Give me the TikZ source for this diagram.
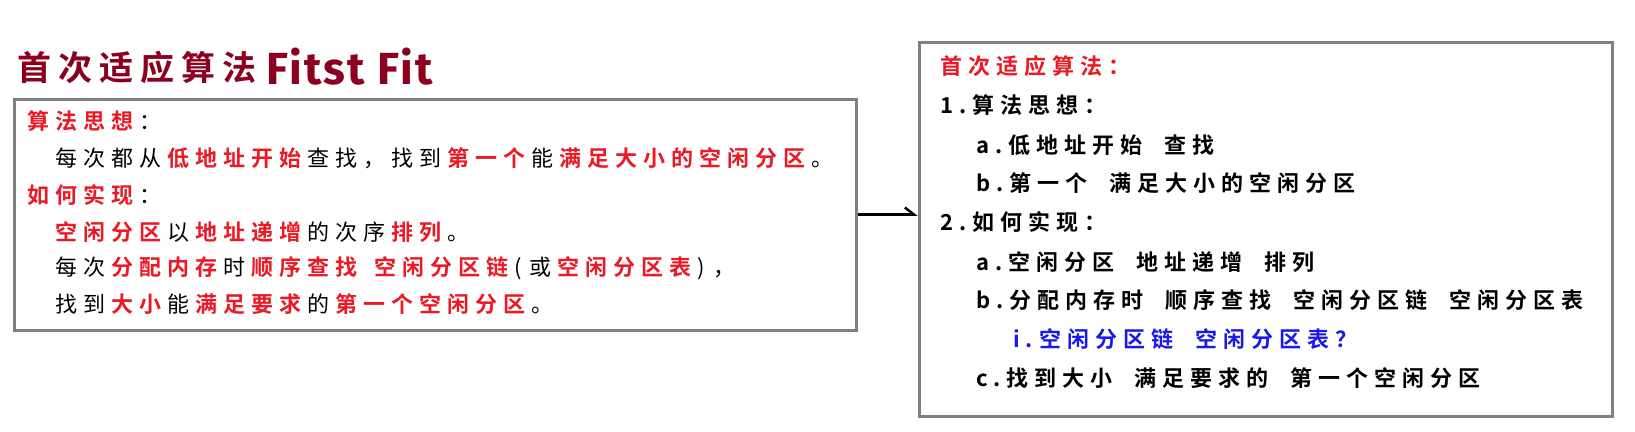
\documentclass[tikz,border=0pt]{standalone}
\usepackage{fontspec}
\usetikzlibrary{arrows.meta}
\newfontfamily\cjk{Noto Sans CJK SC}[BoldFont={Noto Sans CJK SC Bold}]
\newfontfamily\cjkt{Noto Sans CJK SC Bold}
\newfontfamily\latt{Fira Sans}[LetterSpace=5]
\definecolor{titlered}{RGB}{139,0,30}
\definecolor{hred}{RGB}{235,25,35}
\definecolor{hblue}{RGB}{25,25,235}
\definecolor{boxgray}{RGB}{128,128,128}
\newlength\cjkgap
\setlength\cjkgap{6pt}
\def\spcEnd{\spcEnd}
\def\spc#1{\spcA#1\spcEnd}
\def\spcA#1{\ifx#1\spcEnd\else#1\hskip\cjkgap\expandafter\spcA\fi}
\newcommand\T[1]{\spc{#1}}
\newcommand\R[1]{{\bfseries\color{hred}\spc{#1}}}
\newcommand\W{\hskip 11pt}
\newcommand\WW{\hskip 16pt}
\tikzset{
  panel/.style={draw=boxgray, line width=3pt, inner sep=0pt, anchor=north west},
  ltxt/.style={anchor=west, inner sep=0pt, font=\cjk\fontsize{22}{26}\selectfont},
  rtxt/.style={anchor=west, inner sep=0pt, font=\cjk\bfseries\fontsize{22}{26}\selectfont},
}
\begin{document}
\begin{tikzpicture}[x=1pt,y=-1pt]
\useasboundingbox (0,0) rectangle (1635,431);
% title
\node[anchor=west, inner sep=0pt, text=titlered, font=\cjkt\fontsize{34}{38}\selectfont] (tcjk) at (17,68) {\setlength\cjkgap{7pt}\spc{首次适应算法}};
\node[anchor=west, inner sep=0pt, text=titlered, font=\latt\bfseries\fontsize{45}{50}\selectfont] (tlat) at (266,67) {Fitst Fit};
% boxes
\node[panel, minimum width=842pt, minimum height=231pt] (lbox) at (12.5,97.5) {};
\node[panel, minimum width=693pt, minimum height=374pt] (rbox) at (917.5,40.5) {};
\draw[line width=2.5pt, -{Straight Barb[harpoon, length=9pt, width=14pt]}] (lbox.east) -- (lbox.east -| rbox.west);
% left box text
\node[ltxt] (l1) at (27,121.5) {\R{算法思想}\T{：}};
\node[ltxt] (l2) at (55,158.5) {\T{每次都从}\R{低地址开始}\T{查找，找到}\R{第一个}\T{能}\R{满足大小的空闲分区}\T{。}};
\node[ltxt] (l3) at (27,195) {\R{如何实现}\T{：}};
\node[ltxt] (l4) at (55,232) {\R{空闲分区}\T{以}\R{地址递增}\T{的次序}\R{排列}\T{。}};
\node[ltxt] (l5) at (55,268) {\T{每次}\R{分配内存}\T{时}\R{顺序查找}\W\R{空闲分区链}\T{(}\hskip2pt\T{或}\R{空闲分区表}\T{)}\hskip2pt\T{，}};
\node[ltxt] (l6) at (55,304) {\T{找到}\R{大小}\T{能}\R{满足要求}\T{的}\R{第一个空闲分区}\T{。}};
% right box text
\node[rtxt, text=hred] (r0) at (940,66) {\spc{首次适应算法：}};
\node[rtxt] (r1) at (940,105) {\spc{1.算法思想：}};
\node[rtxt] (r2) at (976,145) {\spc{a.低地址开始}\WW\spc{查找}};
\node[rtxt] (r3) at (976,183) {\spc{b.第一个}\WW\spc{满足大小的空闲分区}};
\node[rtxt] (r4) at (940,222) {\spc{2.如何实现：}};
\node[rtxt] (r5) at (976,262) {\spc{a.空闲分区}\WW\spc{地址递增}\WW\spc{排列}};
\node[rtxt] (r6) at (976,300) {\spc{b.分配内存时}\WW\spc{顺序查找}\WW\spc{空闲分区链}\WW\spc{空闲分区表}};
\node[rtxt, text=hblue] (r7) at (1013,339) {\spc{i.空闲分区链}\WW\spc{空闲分区表？}};
\node[rtxt] (r8) at (976,378) {\spc{c.找到大小}\WW\spc{满足要求的}\WW\spc{第一个空闲分区}};
\end{tikzpicture}
\end{document}
